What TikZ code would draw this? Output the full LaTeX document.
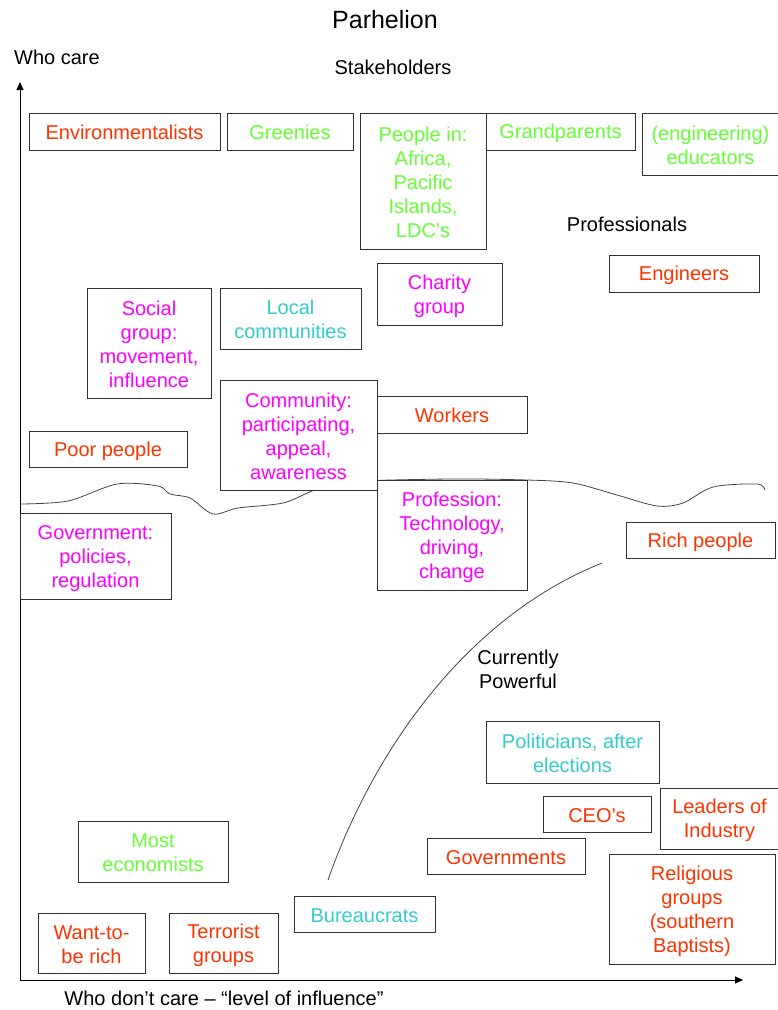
\documentclass[tikz,border=0pt]{standalone}
\usepackage{fontspec}
\setmainfont{Liberation Sans}
\usetikzlibrary{arrows.meta}
\definecolor{cred}{HTML}{FF3300}
\definecolor{cgreen}{HTML}{66FF33}
\definecolor{cmag}{HTML}{FF00FF}
\definecolor{cteal}{HTML}{33CCCC}
\definecolor{edge}{HTML}{333333}
\definecolor{wave}{HTML}{444444}

% invisible strut so every box line has the same height and depth
\newcommand\vstrut{\rule[-3pt]{0pt}{22pt}}
% \stake{name}{left}{top}{right}{bottom}{colour}{text}
\newcommand\stake[7]{%
  \node[box,text=#6,minimum width={(#4-#2)*1pt},minimum height={(#5-#3)*1pt}]
    (#1) at ({(#2+#4)/2},{(#3+#5)/2}) {\vstrut#7\vstrut};}

\begin{document}
\begin{tikzpicture}[x=1pt,y=-1pt,
  box/.style={draw=edge,line width=1pt,fill=white,inner sep=0pt,align=center,
    font=\fontsize{20}{24}\selectfont},
  lbl/.style={inner sep=0pt,align=center,font=\fontsize{20}{24}\selectfont},
  axis/.style={line width=1pt,-{Triangle[length=8pt,width=7pt]}},
]
\useasboundingbox (0,0) rectangle (778,1010);

% titles and labels
\node[lbl,font=\fontsize{25}{30}\selectfont] (title) at (385,20) {Parhelion};
\node[lbl] (whocare) at (57,57) {Who care};
\node[lbl] (stakeholders) at (393,67) {Stakeholders};
\node[lbl] (professionals) at (627,224) {Professionals};
\node[lbl] (powerful) at (518,669) {Currently\\Powerful};
\node[lbl] (xlabel) at (224,998) {Who don’t care – “level of influence”};

% axes
\coordinate (origin) at (20,980);
\coordinate (ytip) at (20,82);
\coordinate (xtip) at (743,980);
\draw[axis] (origin) -- (ytip);
\draw[axis] (origin) -- (xtip);

% hand-drawn boundary between those who care and those who don't
\draw[wave,line width=0.8pt] plot[smooth,tension=0.5] coordinates {
  (20,504) (68,501) (117,484) (158,486) (170,494) (190,498) (213,514)
  (238,508) (283,503) (312,491) (340,482) (450,479) (527,480) (573,483)
  (617,495) (657,506) (683,503) (713,487) (757,484) (765,490)};

% boundary of the currently powerful
\coordinate (pw1) at (328,880);
\coordinate (pw2) at (602,563);
\draw[wave,line width=0.8pt] (pw1) .. controls (370,760) and (460,620) .. (pw2);

% stakeholder boxes
\stake{env}{29}{113}{220}{150}{cred}{Environmentalists}
\stake{greenies}{227}{113}{353}{150}{cgreen}{Greenies}
\stake{people}{360}{113}{486}{249}{cgreen}{People in:\\Africa,\\Pacific\\Islands,\\LDC’s}
\stake{grand}{486}{113}{635}{150}{cgreen}{Grandparents}
\stake{educ}{642}{113}{779}{175}{cgreen}{(engineering)\\educators}
\stake{engineers}{609}{255}{759}{292}{cred}{Engineers}
\stake{charity}{377}{263}{502}{325}{cmag}{Charity\\group}
\stake{social}{87}{288}{211}{398}{cmag}{Social\\group:\\movement,\\influence}
\stake{local}{220}{288}{361}{349}{cteal}{Local\\communities}
\stake{community}{220}{380}{377}{490}{cmag}{Community:\\participating,\\appeal,\\awareness}
\stake{poor}{29}{431}{187}{467}{cred}{Poor people}
\stake{workers}{377}{396}{527}{433}{cred}{Workers}
\stake{profession}{377}{480}{527}{590}{cmag}{Profession:\\Technology,\\driving,\\change}
\stake{gov}{20}{513}{171}{599}{cmag}{Government:\\policies,\\regulation}
\stake{rich}{626}{522}{775}{558}{cred}{Rich people}
\stake{politicians}{486}{721}{659}{783}{cteal}{Politicians, after\\elections}
\stake{ceo}{543}{796}{651}{832}{cred}{CEO’s}
\stake{leaders}{660}{788}{779}{849}{cred}{Leaders of\\Industry}
\stake{governments}{427}{838}{585}{874}{cred}{Governments}
\stake{religious}{609}{854}{775}{964}{cred}{Religious\\groups\\(southern\\Baptists)}
\stake{bureau}{294}{896}{435}{932}{cteal}{Bureaucrats}
\stake{economists}{78}{821}{228}{882}{cgreen}{Most\\economists}
\stake{wantrich}{38}{913}{145}{973}{cred}{Want-to-\\be rich}
\stake{terrorist}{169}{913}{278}{973}{cred}{Terrorist\\groups}
\end{tikzpicture}
\end{document}
